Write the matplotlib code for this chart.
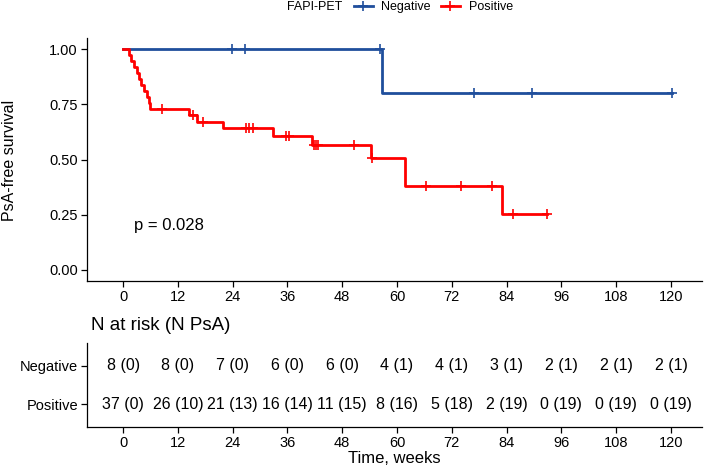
import numpy as np
import matplotlib
matplotlib.use("Agg")
import matplotlib.pyplot as plt
from matplotlib.lines import Line2D

plt.rcParams['font.family'] = ['Liberation Sans', 'DejaVu Sans']

# Kaplan-Meier steps (weeks, survival)
neg_times = [0, 56.7]
neg_surv = [1.0, 0.80]
neg_end = 120.2
neg_censor = [23.8, 26.7, 56.2, 76.9, 89.5, 120.2]

pos_times = [0, 1.2, 1.8, 2.4, 3.0, 3.5, 4.0, 4.6, 5.2, 5.6, 6.0,
             14.4, 16.2, 21.8, 32.8, 41.3, 54.3, 61.8, 82.9]
pos_surv = [1.0, 0.973, 0.946, 0.919, 0.892, 0.865, 0.838, 0.811, 0.784, 0.757, 0.730,
            0.702, 0.672, 0.642, 0.606, 0.566, 0.509, 0.382, 0.252]
pos_end = 92.9
pos_censor = [8.5, 15.3, 17.5, 26.9, 27.6, 28.4, 35.6, 36.4, 41.9, 42.3, 42.7,
              50.5, 54.6, 66.4, 74.0, 80.7, 85.3, 92.9]

# risk table
risk_times = [0, 12, 24, 36, 48, 60, 72, 84, 96, 108, 120]
neg_risk = [8, 8, 7, 6, 6, 4, 4, 3, 2, 2, 2]
neg_events = [0, 0, 0, 0, 0, 1, 1, 1, 1, 1, 1]
pos_risk = [37, 26, 21, 16, 11, 8, 5, 2, 0, 0, 0]
pos_events = [0, 10, 13, 14, 15, 16, 18, 19, 19, 19, 19]

blue = '#1F4E9C'
red = '#FF0000'
W, H = 708, 466
xlim = (-7.9, 126.8)


def surv_at(times, surv, t):
    idx = np.searchsorted(times, t, side='right') - 1
    return np.asarray(surv)[idx]


fig = plt.figure(figsize=(W / 100, H / 100), dpi=100)
ax = fig.add_axes([87 / W, 1 - 281 / H, (702 - 87) / W, (281 - 38) / H])
tab = fig.add_axes([87 / W, 1 - 427 / H, (702 - 87) / W, (427 - 343) / H])

for times, surv, end, cens, col in [(neg_times, neg_surv, neg_end, neg_censor, blue),
                                    (pos_times, pos_surv, pos_end, pos_censor, red)]:
    xs = np.append(times, end)
    ys = np.append(surv, surv[-1])
    ax.step(xs, ys, where='post', color=col, lw=2.0)
    ax.plot(cens, surv_at(times, surv, np.array(cens)), '+', color=col, ms=7, mew=1.2)

ax.set_xlim(*xlim)
ax.set_ylim(-0.05, 1.05)
ax.set_xticks(risk_times)
ax.set_yticks([0, 0.25, 0.5, 0.75, 1.0])
ax.set_yticklabels(['0.00', '0.25', '0.50', '0.75', '1.00'])
ax.text(2.5, 0.2, 'p = 0.028', fontsize=12, ha='left', va='center')
ax.set_ylabel('PsA-free survival', fontsize=11.5)
ax.yaxis.set_label_coords(17 / W, 1 - 160 / H, transform=fig.transFigure)

for a in (ax, tab):
    for s in ('top', 'right'):
        a.spines[s].set_visible(False)
    for s in ('left', 'bottom'):
        a.spines[s].set_linewidth(0.9)
    a.tick_params(length=4, width=0.9, pad=2.5, labelsize=10.5, colors='black')

# legend
handles = [Line2D([], [], color=blue, lw=2, marker='+', ms=7, mew=1.2),
           Line2D([], [], color=red, lw=2, marker='+', ms=7, mew=1.2)]
fig.legend(handles, ['Negative', 'Positive'], loc='center left',
           bbox_to_anchor=(354 / W, 1 - 7 / H), bbox_transform=fig.transFigure,
           ncol=2, frameon=False, fontsize=9, handlelength=1.5,
           handletextpad=0.7, columnspacing=0.8, borderpad=0, borderaxespad=0)
fig.text(342 / W, 1 - 7 / H, 'FAPI-PET', fontsize=9, ha='right', va='center')

# risk table
for i, t in enumerate(risk_times):
    tab.text(t, 2, f'{neg_risk[i]} ({neg_events[i]})', ha='center', va='center', fontsize=11.5)
    tab.text(t, 1, f'{pos_risk[i]} ({pos_events[i]})', ha='center', va='center', fontsize=11.5)
tab.set_xlim(*xlim)
tab.set_ylim(0.4, 2.6)
tab.set_yticks([1, 2])
tab.set_yticklabels(['Positive', 'Negative'])
tab.set_xticks(risk_times)
tab.set_xlabel('Time, weeks', fontsize=12, labelpad=1)
fig.text(91 / W, 1 - 325 / H, 'N at risk (N PsA)', fontsize=13.5, ha='left', va='center')

fig.savefig('out.png', dpi=100)
